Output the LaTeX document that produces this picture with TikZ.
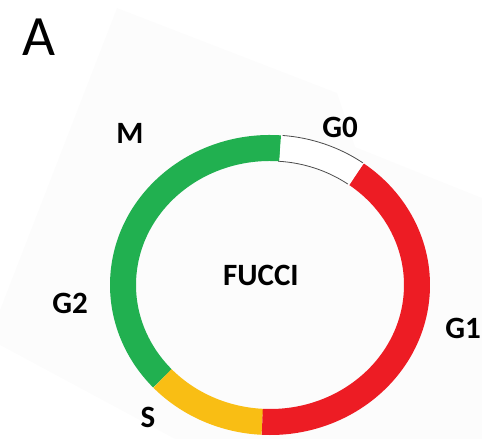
\documentclass[tikz,border=0pt]{standalone}
\usepackage{fontspec}
\setmainfont{Carlito}
\definecolor{fgreen}{RGB}{33,176,80}
\definecolor{fred}{RGB}{237,28,36}
\definecolor{fyellow}{RGB}{249,190,20}
\definecolor{faint}{RGB}{252,252,252}
\begin{document}
\begin{tikzpicture}[x=1pt,y=1pt,
  seg/.style={line width=26pt},
  lbl/.style={inner sep=0pt, font=\fontsize{31}{31}\selectfont\bfseries},
  edgeline/.style={draw=black!70, line width=0.8pt}]
\useasboundingbox (0,0) rectangle (482,439);
% faint background sheet
\fill[faint] (117,431) -- (337,346) -- (355,292) -- (482,241) -- (482,0) -- (175,0) -- (0,94) -- (0,129) -- cycle;
\coordinate (C) at (270,154);
% ring segments
\draw[seg, fgreen] ([shift={(86:147 and 137)}]C) arc[start angle=86, end angle=223, x radius=147, y radius=137];
\draw[seg, fyellow] ([shift={(223:147 and 137)}]C) arc[start angle=223, end angle=267, x radius=147, y radius=137];
\draw[seg, fred] ([shift={(267:147 and 137)}]C) arc[start angle=267, end angle=414, x radius=147, y radius=137];
\draw[seg, white] ([shift={(54:147 and 137)}]C) arc[start angle=54, end angle=86, x radius=147, y radius=137];
\draw[edgeline] ([shift={(54.5:160 and 150)}]C) arc[start angle=54.5, end angle=85.5, x radius=160, y radius=150];
\draw[edgeline] ([shift={(54.5:134 and 124)}]C) arc[start angle=54.5, end angle=86.5, x radius=134, y radius=124];
% labels
\node[inner sep=0pt, font=\fontsize{57}{57}\selectfont] (A) at (39,402) {A};
\node[lbl] (M) at (130,306) {M};
\node[lbl] (G0) at (340,312) {G0};
\node[lbl] (G2) at (70,136) {G2};
\node[lbl] (G1) at (463,111) {G1};
\node[lbl] (S) at (148,22) {S};
\node[lbl] (F) at (261,164) {FUCCI};
\end{tikzpicture}
\end{document}
